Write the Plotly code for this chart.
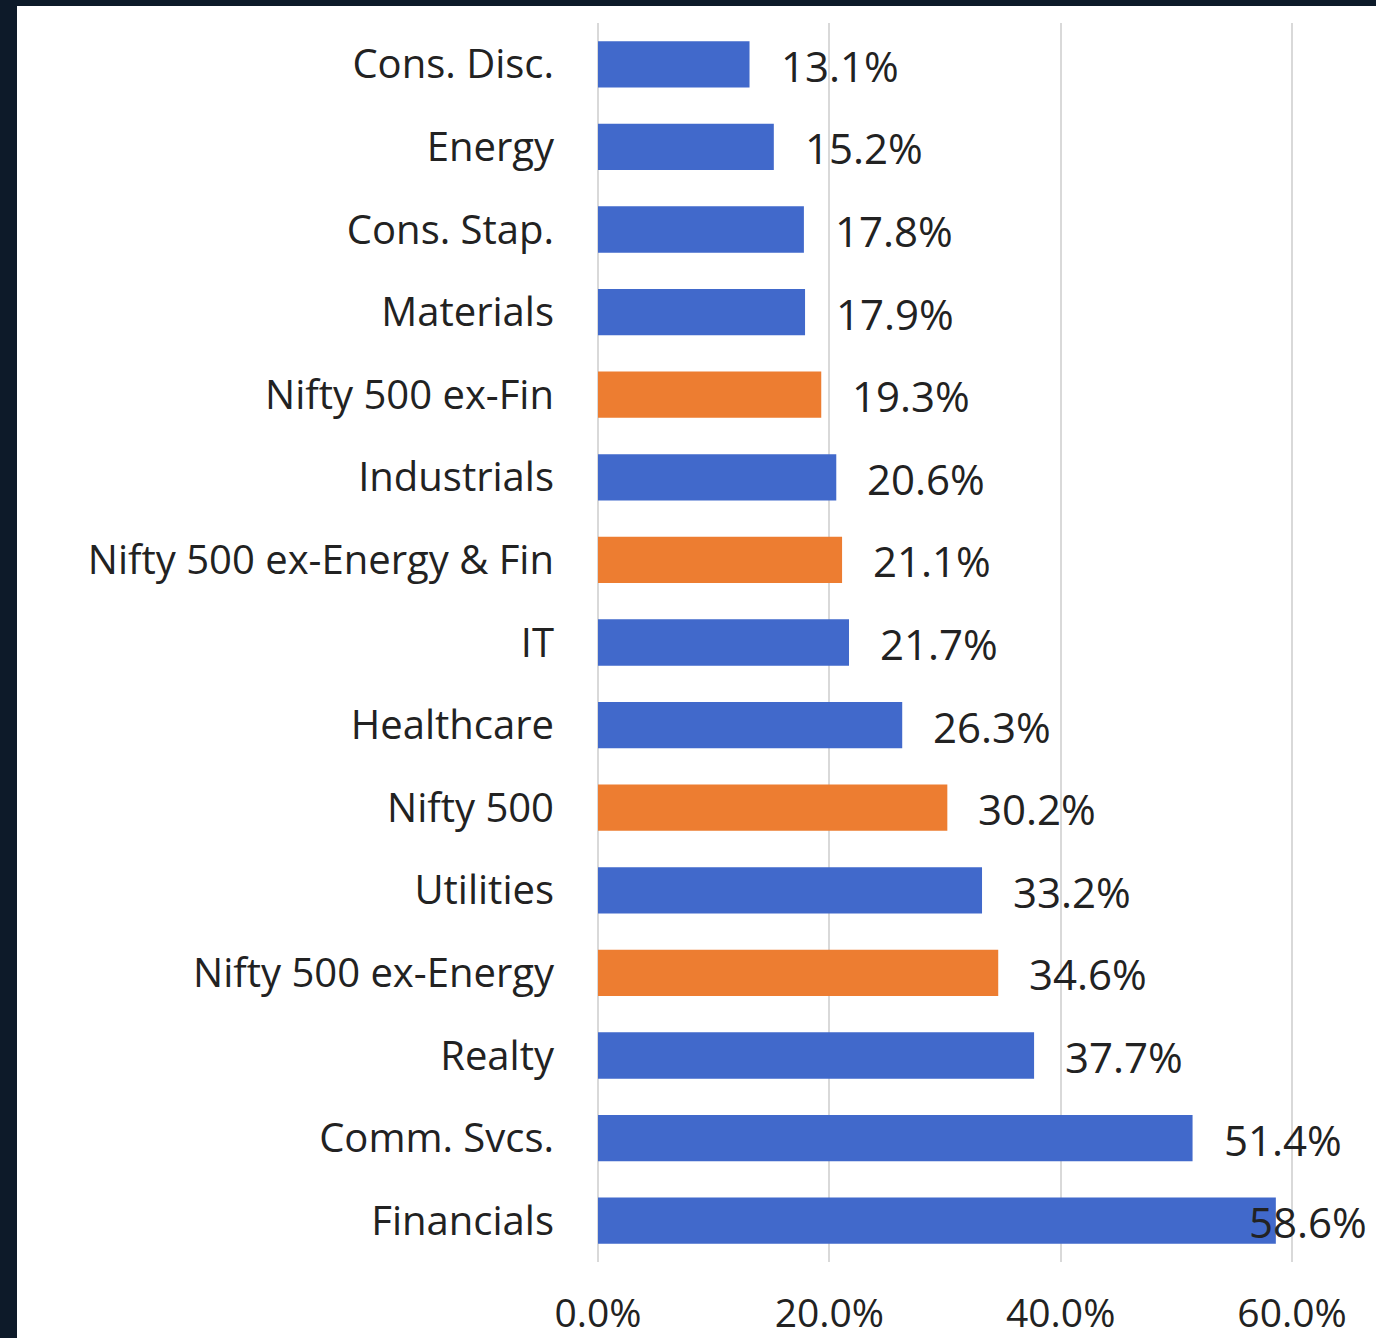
import plotly.graph_objects as go

categories = ["Cons. Disc.", "Energy", "Cons. Stap.", "Materials", "Nifty 500 ex-Fin",
              "Industrials", "Nifty 500 ex-Energy & Fin", "IT", "Healthcare", "Nifty 500",
              "Utilities", "Nifty 500 ex-Energy", "Realty", "Comm. Svcs.", "Financials"]
values = [13.1, 15.2, 17.8, 17.9, 19.3, 20.6, 21.1, 21.7, 26.3, 30.2, 33.2, 34.6, 37.7, 51.4, 58.6]
is_index = [False, False, False, False, True, False, True, False, False, True,
            False, True, False, False, False]
x_ticks = [0, 20, 40, 60]
x_tick_labels = ["0.0%", "20.0%", "40.0%", "60.0%"]

BLUE = "#4169CB"
ORANGE = "#ED7D31"
TEXT = "#222222"
DARK = "#0D1A29"
FONT = "Open Sans"

W, H = 1376, 1338
L, R, T, B = 598, 82, 23, 76

colors = [ORANGE if f else BLUE for f in is_index]

fig = go.Figure(go.Bar(
    x=values, y=categories, orientation="h",
    marker=dict(color=colors, line=dict(width=0)),
    width=0.56, hoverinfo="skip",
))

annotations = []
for c, v in zip(categories, values):
    overflow = v > 55
    annotations.append(dict(
        x=v, y=c, xref="x", yref="y",
        text=f"{v:.1f}%", showarrow=False,
        xanchor="left", yanchor="middle",
        xshift=-29 if overflow else 29, yshift=-1,
        font=dict(family=FONT, size=42, color=TEXT),
    ))

pw = W - L - R
ph = H - T - B

def px_x(p):
    return (p - L) / pw

def px_y(p):
    return (H - B - p) / ph

# dark frame strips (top and left) of the screenshot
fig.add_shape(type="rect", xref="paper", yref="paper",
              x0=px_x(-10), x1=px_x(17), y0=px_y(H + 10), y1=px_y(-10),
              fillcolor=DARK, line=dict(width=0), layer="above")
fig.add_shape(type="rect", xref="paper", yref="paper",
              x0=px_x(-10), x1=px_x(W + 10), y0=px_y(6), y1=px_y(-10),
              fillcolor=DARK, line=dict(width=0), layer="above")

fig.update_layout(
    width=W, height=H,
    margin=dict(l=L, r=R, t=T, b=B, pad=0, autoexpand=False),
    paper_bgcolor="white",
    plot_bgcolor="white",
    showlegend=False,
    annotations=annotations,
    font=dict(family=FONT, color=TEXT),
    xaxis=dict(
        range=[0, 60.17], tickvals=x_ticks, ticktext=x_tick_labels,
        showgrid=True, gridcolor="#D9D9D9", gridwidth=2,
        zeroline=True, zerolinecolor="#D9D9D9", zerolinewidth=2,
        showline=False, ticks="",
        tickfont=dict(family=FONT, size=39, color=TEXT),
        ticklabelstandoff=25, automargin=False, fixedrange=True,
    ),
    yaxis=dict(
        categoryorder="array", categoryarray=categories,
        autorange="reversed",
        showgrid=False, zeroline=False, showline=False, ticks="",
        tickfont=dict(family=FONT, size=40, color=TEXT),
        ticklabelstandoff=43, automargin=False, fixedrange=True,
    ),
)

fig.write_html("out.html", config={"displayModeBar": False})
